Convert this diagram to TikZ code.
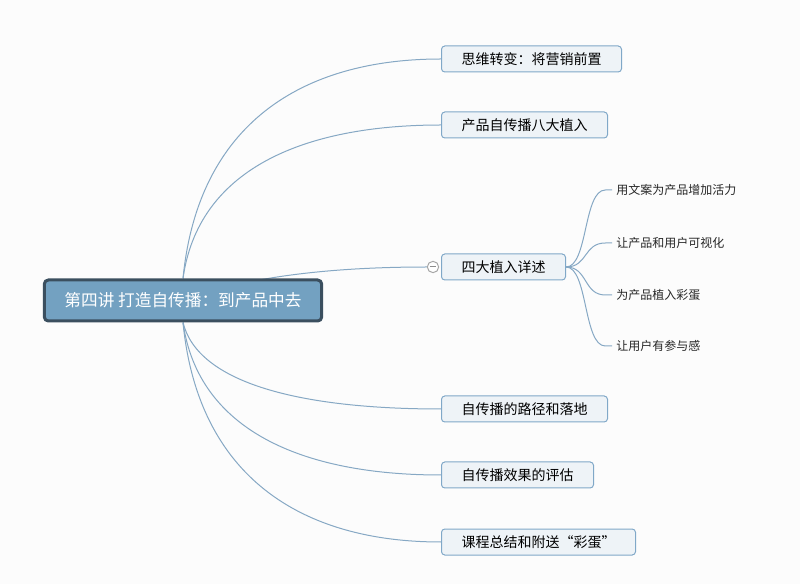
\documentclass[tikz,border=0pt]{standalone}
\usepackage{fontspec}
\setmainfont{Noto Sans CJK SC}
\usepackage{xcolor}
\usetikzlibrary{positioning, backgrounds}
\definecolor{rootfill}{HTML}{73A1C1}
\definecolor{rootline}{HTML}{3B4F5F}
\definecolor{topicfill}{HTML}{EEF3F7}
\definecolor{topicline}{HTML}{80A8C8}
\definecolor{linkline}{HTML}{86A8C4}
\definecolor{pagebg}{HTML}{FCFCFC}
\tikzset{
    root/.style={rectangle, draw=rootline, line width=2.25pt, fill=rootfill, rounded corners=3pt, minimum width=208pt, minimum height=30.75pt, text=white, font=\fontsize{12.5pt}{14pt}\selectfont},
    topic/.style={rectangle, draw=topicline, line width=0.75pt, fill=topicfill, rounded corners=2.5pt, minimum height=19.5pt, inner xsep=15pt, anchor=west, font=\fontsize{10.5pt}{12pt}\selectfont},
    leaf/.style={anchor=west, inner sep=0pt, text=black!85, font=\fontsize{9pt}{11pt}\selectfont},
    link/.style={draw=linkline, line width=0.75pt},
    fold/.style={circle, draw=black!35, fill=white, line width=0.75pt, minimum size=8.5pt, inner sep=0pt},
}
\begin{document}
\begin{tikzpicture}[x=0.75pt, y=-0.75pt]
    \useasboundingbox (0,0) rectangle (800,584);

    % ROOT
    \node[root] (root) at (183,300.5) {第四讲 打造自传播：到产品中去};

    % TOPICS
    \node[topic] (t1) at (441,59) {思维转变：将营销前置};
    \node[topic] (t2) at (441,125) {产品自传播八大植入};
    \node[topic] (t3) at (441,267) {四大植入详述};
    \node[topic] (t4) at (441,409) {自传播的路径和落地};
    \node[topic] (t5) at (441,475) {自传播效果的评估};
    \node[topic] (t6) at (441,542) {课程总结和附送“彩蛋”};

    % fold marker
    \node[fold] (fold) at (433,267) {};
    \draw[black!45, line width=0.75pt] ([xshift=-2.6pt]fold.center) -- ([xshift=2.6pt]fold.center);

    % SUBTOPICS
    \node[leaf] (s1) at (616,190) {用文案为产品增加活力};
    \node[leaf] (s2) at (616,243) {让产品和用户可视化};
    \node[leaf] (s3) at (616,295) {为产品植入彩蛋};
    \node[leaf] (s4) at (616,346) {让用户有参与感};

    % Links
    \begin{scope}[on background layer]
        \fill[pagebg] (0,0) rectangle (800,584);
        \path[link] (root.north) .. controls +(15,-154) and +(-140,0) .. (t1.west);
        \path[link] (root.north) .. controls +(15,-108) and +(-140,0) .. (t2.west);
        \path[link] (root.center) .. controls (250,275) and (340,267) .. (fold.west);
        \path[link] (root.south) .. controls +(15,61) and +(-140,0) .. (t4.west);
        \path[link] (root.south) .. controls +(15,107) and +(-140,0) .. (t5.west);
        \path[link] (root.south) .. controls +(15,154) and +(-140,0) .. (t6.west);
        \foreach \s in {s1,s2,s3,s4}
            \path[link] (t3.east) .. controls +(22,0) and +(-22,0) .. ([xshift=-8pt]\s.west) -- ([xshift=-3pt]\s.west);
    \end{scope}

\end{tikzpicture}
\end{document}
